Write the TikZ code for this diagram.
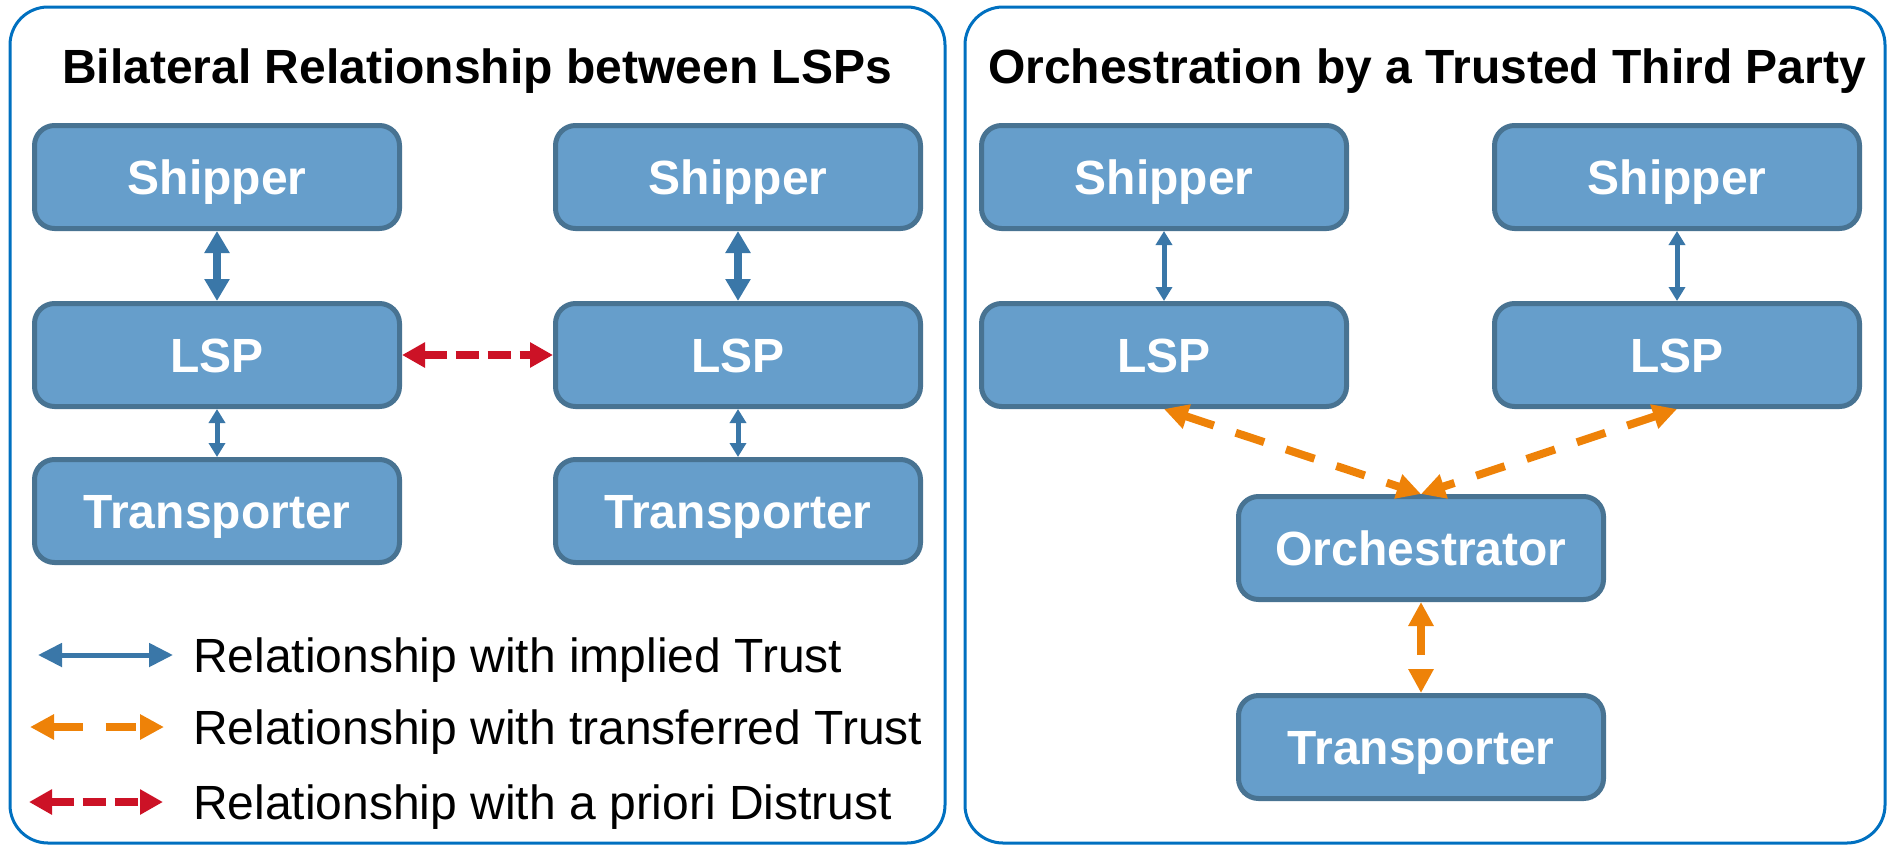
\documentclass[tikz,border=0pt]{standalone}
\usepackage{fontspec}
\setmainfont{Liberation Sans}
\usetikzlibrary{arrows.meta}

\definecolor{framecol}{HTML}{0070C0}
\definecolor{boxfill}{RGB}{102,158,203}
\definecolor{boxline}{RGB}{72,115,146}
\definecolor{trustblue}{RGB}{58,119,168}
\definecolor{distrustred}{RGB}{204,18,38}
\definecolor{transferorange}{RGB}{238,130,8}

\tikzset{
  panel/.style={draw=framecol, line width=3pt, rounded corners=38pt},
  actor/.style={draw=boxline, fill=boxfill, line width=5pt, rounded corners=20pt,
    minimum width=365pt, minimum height=103pt, inner sep=0pt, outer sep=2.5pt,
    text height=34pt, text depth=0pt, text=white,
    font=\fontsize{48}{58}\selectfont\bfseries},
  paneltitle/.style={anchor=base, inner sep=0pt, font=\fontsize{48}{58}\selectfont\bfseries},
  legendtext/.style={anchor=base west, inner sep=0pt, font=\fontsize{48}{58}\selectfont},
  impliedbig/.style={trustblue, line width=8pt,
    {Triangle[width=24pt,length=22pt]}-{Triangle[width=24pt,length=22pt]}},
  impliedsmall/.style={trustblue, line width=5pt,
    {Triangle[width=16pt,length=14pt]}-{Triangle[width=16pt,length=14pt]}},
  impliedkey/.style={trustblue, line width=5pt,
    {Triangle[width=23pt,length=24pt]}-{Triangle[width=23pt,length=24pt]}},
  transferred/.style={transferorange, line width=8pt, dash pattern=on 30pt off 23pt,
    {Triangle[width=24pt,length=24pt]}-{Triangle[width=24pt,length=24pt]}},
  distrust/.style={distrustred, line width=8pt, dash pattern=on 23pt off 9pt,
    {Triangle[width=24pt,length=23pt]}-{Triangle[width=24pt,length=23pt]}},
}

\begin{document}
\begin{tikzpicture}[x=1pt, y=-1pt]
\useasboundingbox (0,0) rectangle (1892,846);

% two panels
\draw[panel] (10,7) rectangle (945,843);
\draw[panel] (965,7) rectangle (1885,843);

\node[paneltitle] (title-left) at (477,83) {Bilateral Relationship between LSPs};
\node[paneltitle] (title-right) at (1427,83) {Orchestration by a Trusted Third Party};

% bilateral setting
\node[actor] (s1) at (217,177) {Shipper};
\node[actor] (l1) at (217,355) {LSP};
\node[actor] (t1) at (217,511) {Transporter};
\node[actor] (s2) at (738,177) {Shipper};
\node[actor] (l2) at (738,355) {LSP};
\node[actor] (t2) at (738,511) {Transporter};

\draw[impliedbig] (s1) -- (l1);
\draw[impliedsmall] (l1) -- (t1);
\draw[impliedbig] (s2) -- (l2);
\draw[impliedsmall] (l2) -- (t2);
\draw[distrust] (l1) -- (l2);

% orchestrated setting
\node[actor] (s3) at (1164,177) {Shipper};
\node[actor] (l3) at (1164,355) {LSP};
\node[actor] (s4) at (1677,177) {Shipper};
\node[actor] (l4) at (1677,355) {LSP};
\node[actor] (o) at (1421,548) {Orchestrator};
\node[actor] (t3) at (1421,747) {Transporter};

\draw[impliedsmall] (s3) -- (l3);
\draw[impliedsmall] (s4) -- (l4);
\draw[transferred] (l3.south) -- (o.north);
\draw[transferred] (l4.south) -- (o.north);
\draw[transferred] (o) -- (t3);

% legend
\coordinate (k1a) at (38,655);  \coordinate (k1b) at (173,655);
\coordinate (k2a) at (30,727);  \coordinate (k2b) at (164,727);
\coordinate (k3a) at (29,802);  \coordinate (k3b) at (163,802);
\draw[impliedkey] (k1a) -- (k1b);
\draw[transferred] (k2a) -- (k2b);
\draw[distrust] (k3a) -- (k3b);
\node[legendtext] (key1) at (193,672) {Relationship with implied Trust};
\node[legendtext] (key2) at (193,744) {Relationship with transferred Trust};
\node[legendtext] (key3) at (193,819) {Relationship with a priori Distrust};
\end{tikzpicture}
\end{document}
